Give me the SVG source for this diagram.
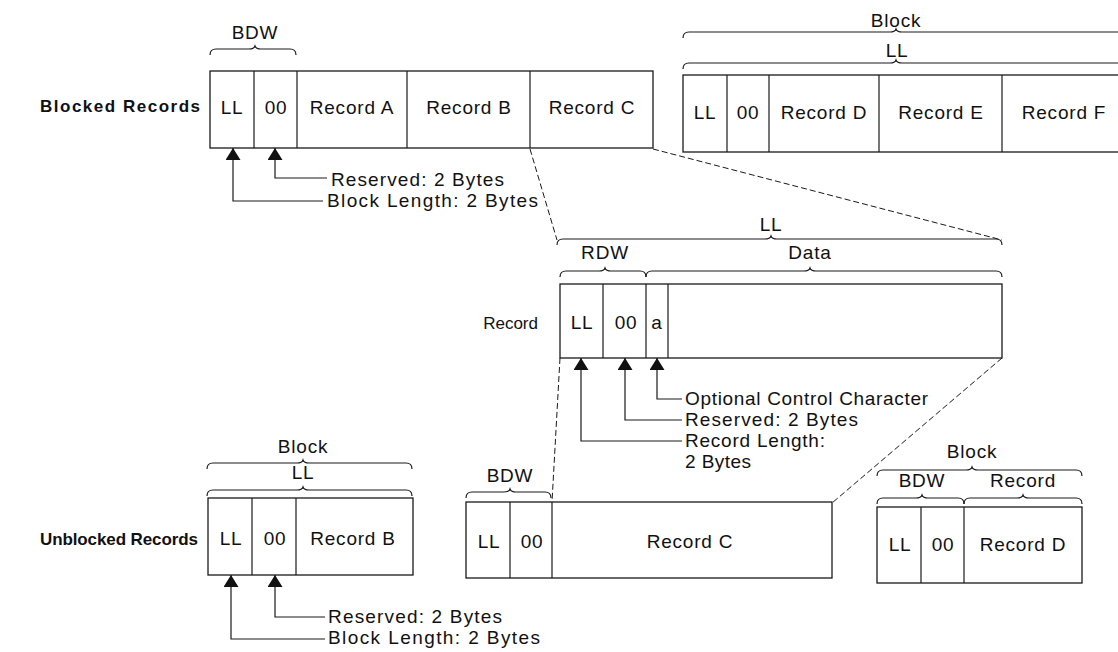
<svg xmlns="http://www.w3.org/2000/svg" width="1118" height="652" viewBox="0 0 1118 652">
<style>
.box{fill:none;stroke:#1a1a1a;stroke-width:1.3}
.div{stroke:#1a1a1a;stroke-width:1.2}
.br{fill:none;stroke:#1a1a1a;stroke-width:1.2}
.t{font-family:"Liberation Sans",Arial,sans-serif;font-size:19px;letter-spacing:0.8px;fill:#111}
.c{text-anchor:middle}
.a{font-family:"Liberation Sans",Arial,sans-serif;font-size:19px;fill:#111}
.b{font-family:"Liberation Sans",Arial,sans-serif;font-size:17px;font-weight:bold;fill:#111}
.dash{fill:none;stroke:#1a1a1a;stroke-width:1;stroke-dasharray:6 3}
.arr{fill:none;stroke:#1a1a1a;stroke-width:1.2;marker-end:url(#tri)}
</style>
<defs>
<marker id="tri" viewBox="0 0 12 15" refX="12" refY="7.5" markerWidth="12" markerHeight="15" markerUnits="userSpaceOnUse" orient="auto">
<path d="M0,0 L12,7.5 L0,15 Z" fill="#111"/>
</marker>
</defs>
<rect width="1118" height="652" fill="#fff"/>

<g id="blocked-label"><text class="b" x="40" y="112" textLength="160" lengthAdjust="spacing">Blocked Records</text></g>

<g id="blocked-block-1">
<path class="br" d="M210,55 Q210,49 216,49 L249,49 Q254,49 255,46 Q256,49 261,49 L290,49 Q296,49 296,55"/>
<text class="t c" x="255" y="39">BDW</text>
<rect class="box" x="210" y="71" width="443" height="77"/>
<line class="div" x1="254" y1="71" x2="254" y2="148"/>
<line class="div" x1="297" y1="71" x2="297" y2="148"/>
<line class="div" x1="407" y1="71" x2="407" y2="148"/>
<line class="div" x1="530" y1="71" x2="530" y2="148"/>
<text class="t c" x="232" y="114">LL</text>
<text class="t c" x="276" y="114">00</text>
<text class="t c" x="352" y="114">Record A</text>
<text class="t c" x="469" y="114">Record B</text>
<text class="t c" x="592" y="114">Record C</text>
</g>

<g id="blocked-block-2">
<path class="br" d="M683,38 Q683,32 689,32 L890,32 Q895,32 896,29 Q897,32 902,32 L1125,32"/>
<text class="t c" x="896" y="27">Block</text>
<path class="br" d="M683,69 Q683,63 689,63 L890,63 Q895,63 896,60 Q897,63 902,63 L1125,63"/>
<text class="t c" x="897" y="57">LL</text>
<rect class="box" x="683" y="75" width="500" height="77"/>
<line class="div" x1="727" y1="75" x2="727" y2="152"/>
<line class="div" x1="769" y1="75" x2="769" y2="152"/>
<line class="div" x1="879" y1="75" x2="879" y2="152"/>
<line class="div" x1="1002" y1="75" x2="1002" y2="152"/>
<text class="t c" x="705" y="119">LL</text>
<text class="t c" x="748" y="119">00</text>
<text class="t c" x="824" y="119">Record D</text>
<text class="t c" x="941" y="119">Record E</text>
<text class="t c" x="1064" y="119">Record F</text>
</g>

<g id="record">
<text class="a" x="538" y="329" text-anchor="end" style="font-size:17px">Record</text>
<path class="br" d="M557,245 Q557,239 563,239 L765,239 Q770,239 771,236 Q772,239 777,239 L996,239 Q1002,239 1002,245"/>
<text class="t c" x="771" y="231">LL</text>
<path class="br" d="M560,277 Q560,271 566,271 L599,271 Q604,271 605,268 Q606,271 611,271 L640,271 Q646,271 646,277"/>
<text class="t c" x="605" y="259">RDW</text>
<path class="br" d="M646,277 Q646,271 652,271 L804,271 Q809,271 810,268 Q811,271 816,271 L996,271 Q1002,271 1002,277"/>
<text class="t c" x="810" y="259">Data</text>
<rect class="box" x="560" y="284" width="442" height="74"/>
<line class="div" x1="603" y1="284" x2="603" y2="358"/>
<line class="div" x1="646" y1="284" x2="646" y2="358"/>
<line class="div" x1="668" y1="284" x2="668" y2="358"/>
<text class="t c" x="582" y="329">LL</text>
<text class="t c" x="626" y="329">00</text>
<text class="t c" x="657" y="329">a</text>
</g>

<g id="unblocked-label"><text class="b" x="40" y="545" textLength="158" lengthAdjust="spacing">Unblocked Records</text></g>

<g id="unblocked-block-1">
<path class="br" d="M207,469 Q207,463 213,463 L297,463 Q302,463 303,460 Q304,463 309,463 L406,463 Q412,463 412,469"/>
<text class="t c" x="303" y="453">Block</text>
<path class="br" d="M207,496 Q207,490 213,490 L297,490 Q302,490 303,487 Q304,490 309,490 L406,490 Q412,490 412,496"/>
<text class="t c" x="303" y="479">LL</text>
<rect class="box" x="208" y="498" width="205" height="77"/>
<line class="div" x1="252" y1="498" x2="252" y2="575"/>
<line class="div" x1="296" y1="498" x2="296" y2="575"/>
<text class="t c" x="231" y="545">LL</text>
<text class="t c" x="275" y="545">00</text>
<text class="t c" x="353" y="545">Record B</text>
</g>

<g id="unblocked-block-2">
<path class="br" d="M466,498 Q466,492 472,492 L504,492 Q509,492 510,489 Q511,492 516,492 L545,492 Q551,492 551,498"/>
<text class="t c" x="510" y="482">BDW</text>
<rect class="box" x="466" y="502" width="366" height="76"/>
<line class="div" x1="510" y1="502" x2="510" y2="578"/>
<line class="div" x1="552" y1="502" x2="552" y2="578"/>
<text class="t c" x="489" y="548">LL</text>
<text class="t c" x="532" y="548">00</text>
<text class="t c" x="690" y="548">Record C</text>
</g>

<g id="unblocked-block-3">
<path class="br" d="M877,476 Q877,470 883,470 L966,470 Q971,470 972,467 Q973,470 978,470 L1076,470 Q1082,470 1082,476"/>
<text class="t c" x="972" y="458">Block</text>
<path class="br" d="M877,504 Q877,498 883,498 L916,498 Q921,498 922,495 Q923,498 928,498 L958,498 Q964,498 964,504"/>
<text class="t c" x="922" y="487">BDW</text>
<path class="br" d="M964,504 Q964,498 970,498 L1017,498 Q1022,498 1023,495 Q1024,498 1029,498 L1076,498 Q1082,498 1082,504"/>
<text class="t c" x="1023" y="487">Record</text>
<rect class="box" x="877" y="507" width="205" height="76"/>
<line class="div" x1="921" y1="507" x2="921" y2="583"/>
<line class="div" x1="964" y1="507" x2="964" y2="583"/>
<text class="t c" x="900" y="551">LL</text>
<text class="t c" x="943" y="551">00</text>
<text class="t c" x="1023" y="551">Record D</text>
</g>

<g id="connectors">
<path class="dash" d="M530,149 L557,240"/>
<path class="dash" d="M653,149 L1002,240"/>
<path class="dash" d="M560,358 L552,502"/>
<path class="dash" d="M1002,358 L832,503"/>
<path class="arr" d="M327,178 H275 V148"/>
<path class="arr" d="M323,201 H233 V148"/>
<path class="arr" d="M682,399 H657 V358"/>
<path class="arr" d="M682,420 H625 V358"/>
<path class="arr" d="M682,441 H581 V358"/>
<path class="arr" d="M325,617 H275 V575"/>
<path class="arr" d="M325,639 H231 V575"/>
</g>

<g id="annotations">
<text class="a" x="331" y="186" textLength="173" lengthAdjust="spacing">Reserved: 2 Bytes</text>
<text class="a" x="327" y="207" textLength="211" lengthAdjust="spacing">Block Length: 2 Bytes</text>
<text class="a" x="685" y="405" textLength="243" lengthAdjust="spacing">Optional Control Character</text>
<text class="a" x="685" y="426" textLength="173" lengthAdjust="spacing">Reserved: 2 Bytes</text>
<text class="a" x="685" y="447" textLength="140" lengthAdjust="spacing">Record Length:</text>
<text class="a" x="685" y="468" textLength="66" lengthAdjust="spacing">2 Bytes</text>
<text class="a" x="328" y="623" textLength="174" lengthAdjust="spacing">Reserved: 2 Bytes</text>
<text class="a" x="328" y="644" textLength="212" lengthAdjust="spacing">Block Length: 2 Bytes</text>
</g>
</svg>
